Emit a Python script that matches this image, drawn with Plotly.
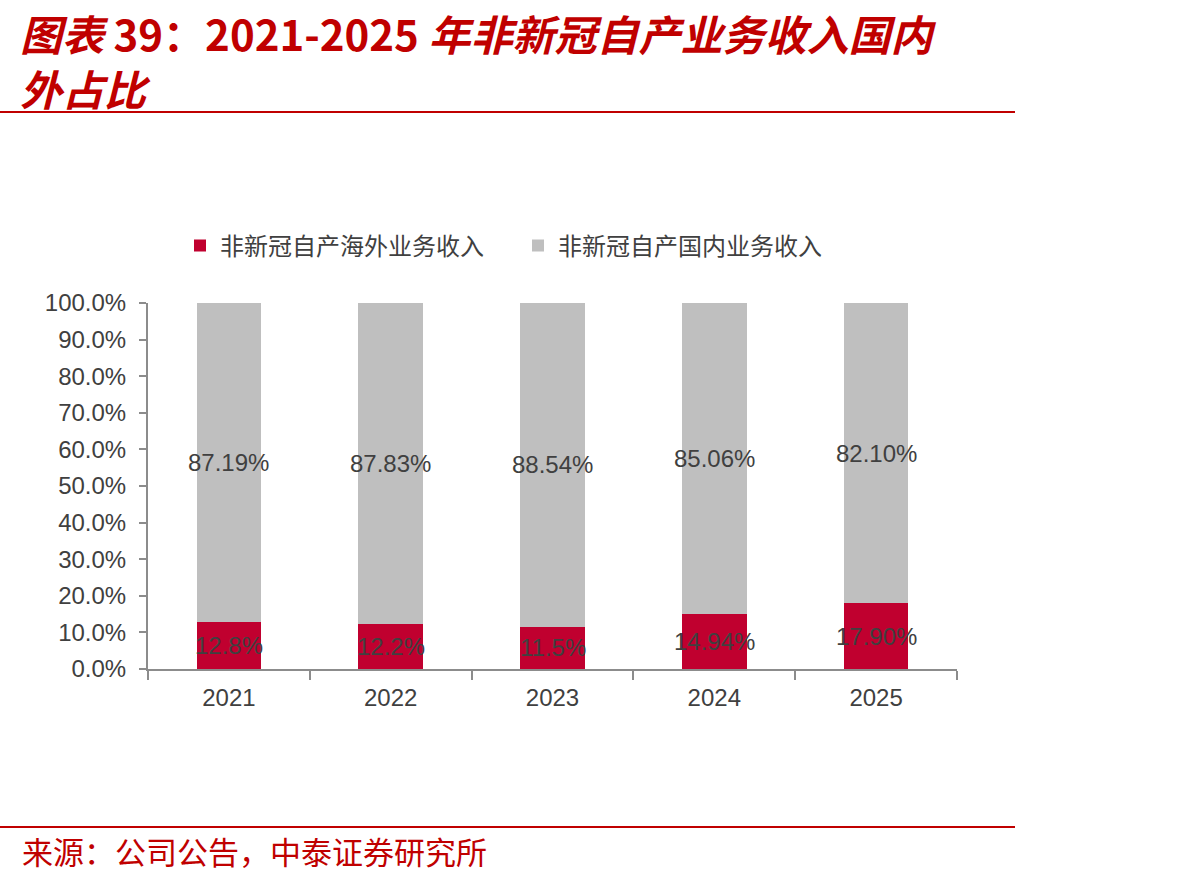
import plotly.graph_objects as go

years = ["2021", "2022", "2023", "2024", "2025"]
overseas = [12.8, 12.2, 11.5, 14.94, 17.90]
domestic = [87.19, 87.83, 88.54, 85.06, 82.10]
overseas_labels = ["12.8%", "12.2%", "11.5%", "14.94%", "17.90%"]
domestic_labels = ["87.19%", "87.83%", "88.54%", "85.06%", "82.10%"]
series_names = ["非新冠自产海外业务收入", "非新冠自产国内业务收入"]
title_text = "<i>图表</i> 39：2021-2025 <i>年非新冠自产业务收入国内</i><br><i>外占比</i>"
source_text = "来源：公司公告，中泰证券研究所"

W, H = 1192, 880
L, R, T, B = 148, 957, 303, 669
RED = "#C0002F"
TITLE_RED = "#C00000"
GREY = "#BFBFBF"
TXT = "#404040"
AX = "#8C8C8C"

def px(x):
    return (x - L) / (R - L)

def py(y):
    return (B - y) / (B - T)

fig = go.Figure()
fig.add_bar(x=years, y=overseas, name=series_names[0], marker_color=RED,
            marker_line_width=0)
fig.add_bar(x=years, y=domestic, name=series_names[1], marker_color=GREY,
            marker_line_width=0)

annotations = []
num_font = dict(family="Liberation Sans, Arial", size=24, color=TXT)
for i, (o, d, ol, dl) in enumerate(zip(overseas, domestic, overseas_labels, domestic_labels)):
    annotations.append(dict(x=i, y=o / 2, xref="x", yref="y", text=ol,
                            showarrow=False, font=num_font))
    annotations.append(dict(x=i, y=o + d / 2, xref="x", yref="y", text=dl,
                            showarrow=False, font=num_font))

title_font = dict(family="Noto Sans CJK SC", size=42, color=TITLE_RED, weight="bold")
annotations.append(dict(x=px(18), y=py(60), xref="paper", yref="paper", text=title_text,
                        showarrow=False, xanchor="left", yanchor="middle", align="left",
                        font=title_font))
annotations.append(dict(x=px(20), y=py(850), xref="paper", yref="paper", text=source_text,
                        showarrow=False, xanchor="left", yanchor="middle",
                        font=dict(family="Noto Sans CJK SC", size=31, color=TITLE_RED)))

shapes = [
    dict(type="line", xref="paper", yref="paper", x0=px(0), x1=px(1015), y0=py(112), y1=py(112),
         line=dict(color=TITLE_RED, width=2)),
    dict(type="line", xref="paper", yref="paper", x0=px(0), x1=px(1015), y0=py(827), y1=py(827),
         line=dict(color=TITLE_RED, width=2)),
]

fig.update_layout(
    width=W, height=H,
    margin=dict(l=L, r=W - R, t=T, b=H - B, pad=0),
    paper_bgcolor="white", plot_bgcolor="white",
    barmode="stack", bargap=0.6,
    showlegend=True,
    legend=dict(orientation="h", x=px(180), y=py(246), xanchor="left", yanchor="middle",
                font=dict(family="Noto Sans CJK SC", size=24, color=TXT),
                itemwidth=30, entrywidth=293, entrywidthmode="pixels",
                traceorder="normal", bgcolor="rgba(0,0,0,0)"),
    annotations=annotations,
    shapes=shapes,
    font=dict(family="Liberation Sans, Arial", color=TXT),
)
fig.update_xaxes(type="category", showline=True, linecolor=AX, linewidth=2,
                 ticks="outside", tickson="boundaries", ticklen=9, tickcolor=AX, tickwidth=2,
                 tickfont=dict(family="Liberation Sans, Arial", size=24, color=TXT),
                 ticklabelstandoff=6,
                 showgrid=False, zeroline=False)
fig.update_yaxes(range=[0, 100], dtick=10, tickformat=".1f", ticksuffix="%",
                 showline=True, linecolor=AX, linewidth=2,
                 ticks="outside", ticklen=7, tickcolor=AX, tickwidth=2,
                 tickfont=dict(family="Liberation Sans, Arial", size=24, color=TXT),
                 ticklabelstandoff=8,
                 showgrid=False, zeroline=False)

fig.write_html("out.html")
